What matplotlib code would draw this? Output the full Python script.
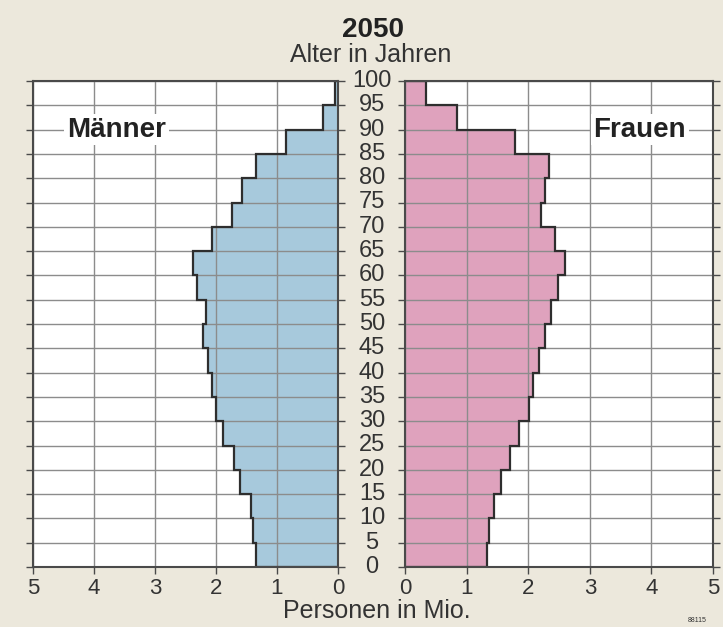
import matplotlib.pyplot as plt
from matplotlib.transforms import blended_transform_factory

plt.rcParams['font.family'] = ['Liberation Sans', 'DejaVu Sans']

# age groups (lower edges), 0-4 ... 95-99
ages = list(range(0, 105, 5))
men = [1.34, 1.39, 1.43, 1.60, 1.70, 1.89, 2.00, 2.07, 2.13, 2.22,
       2.17, 2.31, 2.38, 2.07, 1.74, 1.58, 1.34, 0.85, 0.25, 0.05]
women = [1.33, 1.36, 1.44, 1.56, 1.70, 1.85, 2.02, 2.08, 2.17, 2.27,
         2.37, 2.48, 2.59, 2.44, 2.21, 2.27, 2.34, 1.79, 0.85, 0.34]
xticks = [0, 1, 2, 3, 4, 5]

bg = '#ece8dc'
blue = '#a7c9dc'
pink = '#dfa2bd'
grid_c = '#8c8c8c'
frame_c = '#4a4a4a'
txt_c = '#333333'
W, H = 723, 627

fig = plt.figure(figsize=(W / 100, H / 100), dpi=100, facecolor=bg)


def px_axes(x0, x1, y0, y1):
    return fig.add_axes([x0 / W, 1 - y1 / H, (x1 - x0) / W, (y1 - y0) / H])


ax_m = px_axes(33, 338, 81, 567)
ax_f = px_axes(405, 713, 81, 567)

for ax, vals, col in [(ax_m, men, blue), (ax_f, women, pink)]:
    ax.set_facecolor('white')
    ax.stairs(vals, ages, orientation='horizontal', fill=True, color=col, zorder=1)
    ax.set_xlim(0, 5)
    ax.set_ylim(0, 100)
    ax.set_xticks(xticks)
    ax.set_xticklabels([str(t) for t in xticks], fontsize=16, color=txt_c)
    ax.set_yticks(ages)
    ax.set_yticklabels([])
    ax.grid(True, color=grid_c, lw=1.0, zorder=2)
    ax.set_axisbelow(False)
    ax.stairs(vals, ages, orientation='horizontal', fill=False, color='#2e2e2e',
              lw=1.6, zorder=3)
    ax.tick_params(axis='both', direction='out', length=5, width=1, color=frame_c,
                   left=True, right=True, pad=3)
    for s in ax.spines.values():
        s.set_color(frame_c)
        s.set_linewidth(1.5)
        s.set_zorder(4)

ax_m.invert_xaxis()

# age labels between the two panels
tr = blended_transform_factory(fig.transFigure, ax_f.transData)
for a in ages:
    fig.text(372 / W, a, str(a), transform=tr, ha='center', va='center',
             fontsize=17, color=txt_c)

fig.text(373 / W, 1 - 30 / H, '2050', ha='center', va='center', fontsize=20,
         fontweight='bold', color='#222222')
fig.text(371 / W, 1 - 55 / H, 'Alter in Jahren', ha='center', va='center',
         fontsize=18, color=txt_c)
fig.text(377 / W, 1 - 611 / H, 'Personen in Mio.', ha='center', va='center',
         fontsize=18, color=txt_c)

box = dict(facecolor='white', edgecolor='none', pad=2)
ax_m.text(3.63, 90, 'Männer', ha='center', va='center', fontsize=20,
          fontweight='bold', color='#222222', bbox=box, zorder=5)
ax_f.text(3.81, 90, 'Frauen', ha='center', va='center', fontsize=20,
          fontweight='bold', color='#222222', bbox=box, zorder=5)

fig.text(688 / W, 1 - 621 / H, '88115', ha='left', va='center', fontsize=5,
         color=txt_c)

fig.savefig('out.png', dpi=100, facecolor=bg)
